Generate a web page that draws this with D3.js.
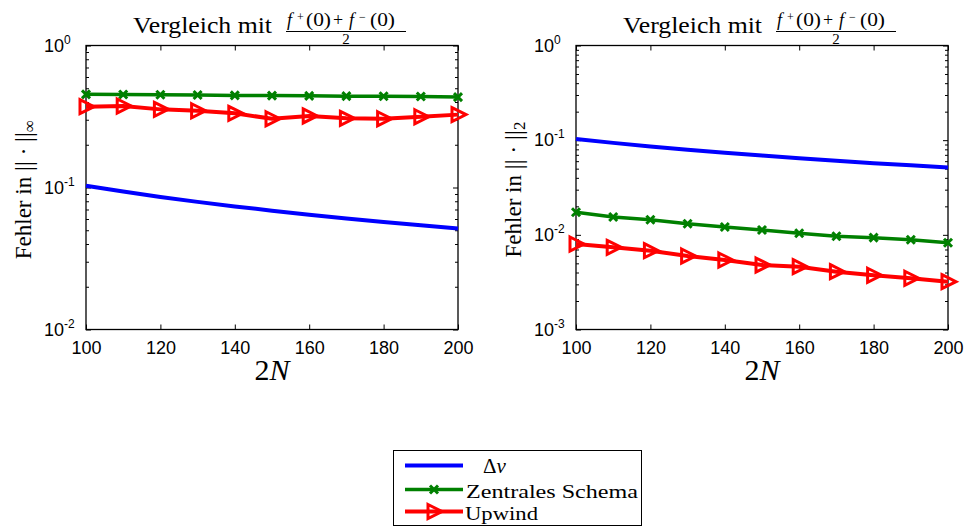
<!DOCTYPE html>
<html>
<head>
<meta charset="utf-8">
<script src="https://cdn.jsdelivr.net/npm/d3@7"></script>
<style>
  html, body { margin: 0; padding: 0; background: #fff; }
  svg { display: block; }
</style>
</head>
<body>
<svg id="chart" width="967" height="528"></svg>
<script>
// Grid sizes 2N and the error of each scheme
const N2 = [100, 110, 120, 130, 140, 150, 160, 170, 180, 190, 200];
const X_TICKS = [100, 120, 140, 160, 180, 200];
const DELTA_V = [0.1030, 0.0936, 0.0858, 0.0792, 0.0736, 0.0687, 0.0644, 0.0606, 0.0572, 0.0542, 0.0515];
const ZENTRAL_INF = [0.453, 0.452, 0.450, 0.448, 0.445, 0.444, 0.442, 0.440, 0.439, 0.437, 0.433];
const UPWIND_INF = [0.371, 0.375, 0.355, 0.347, 0.333, 0.305, 0.319, 0.307, 0.305, 0.315, 0.326];
const ZENTRAL_L2 = [0.0173, 0.01543, 0.01445, 0.01311, 0.0121, 0.01125, 0.01038, 0.00965, 0.00933, 0.00888, 0.00826];
const UPWIND_L2 = [0.0080, 0.00738, 0.0068, 0.00598, 0.00542, 0.0048, 0.00461, 0.00408, 0.00374, 0.00348, 0.0032];
const SERIES_NAMES = ["Zentrales Schema", "Upwind"];
const TITLE_TEXT = "Vergleich mit";
const YLABEL_TEXT = "Fehler in ";

const COLORS = { dv: "#0000ff", zentral: "#008000", upwind: "#ff0000" };
const SERIF = "'Liberation Serif', 'DejaVu Serif', serif";
const SANS = "'Liberation Sans', Arial, Helvetica, sans-serif";

const panels = [
  { x0: 86, x1: 458, yMin: 1e-2, norm: "∞", zentral: ZENTRAL_INF, upwind: UPWIND_INF, labelX: 31 },
  { x0: 576, x1: 948, yMin: 1e-3, norm: "2", zentral: ZENTRAL_L2, upwind: UPWIND_L2, labelX: 521 }
];
const TOP = 45.5, BOTTOM = 329.5;

const svg = d3.select("#chart");
svg.append("rect").attr("width", 967).attr("height", 528).attr("fill", "#fff");

const crossPath = "M-4,-4L4,4M-4,4L4,-4";
const triPath = "M-6,-7L8,0L-6,7Z";

panels.forEach(p => {
  const x = d3.scaleLinear().domain([100, 200]).range([p.x0, p.x1]);
  const y = d3.scaleLog().domain([p.yMin, 1]).range([BOTTOM, TOP]);
  const g = svg.append("g");

  const kMin = Math.round(Math.log10(p.yMin));
  const majors = d3.range(kMin, 1).map(k => Math.pow(10, k));
  const minors = [];
  for (let k = kMin; k < 0; k++) for (let m = 2; m <= 9; m++) minors.push(m * Math.pow(10, k));

  // x axis ticks (bottom with labels, top without)
  const gx = g.append("g").attr("transform", `translate(0,${BOTTOM})`)
    .call(d3.axisBottom(x).tickValues(X_TICKS).tickSize(-5).tickPadding(12).tickFormat(d3.format("d")));
  gx.attr("font-family", SANS).attr("font-size", 18);
  gx.select(".domain").remove();
  gx.selectAll("text").attr("fill", "#000");
  const gxt = g.append("g").attr("transform", `translate(0,${TOP})`)
    .call(d3.axisTop(x).tickValues(X_TICKS).tickSize(-5).tickFormat(""));
  gxt.select(".domain").remove();

  // y axis ticks: decades and minor ticks, both sides
  [[d3.axisLeft, p.x0], [d3.axisRight, p.x1]].forEach(([ax, pos]) => {
    const a1 = g.append("g").attr("transform", `translate(${pos},0)`)
      .call(ax(y).tickValues(majors).tickSize(-5).tickFormat(""));
    a1.select(".domain").remove();
    const a2 = g.append("g").attr("transform", `translate(${pos},0)`)
      .call(ax(y).tickValues(minors).tickSize(-3).tickFormat(""));
    a2.select(".domain").remove();
  });
  g.selectAll(".tick line").attr("stroke", "#000").attr("stroke-width", 1);

  // decade labels 10^k
  majors.forEach(v => {
    const k = Math.round(Math.log10(v));
    const t = g.append("text").attr("x", p.x0 - 42).attr("y", y(v)).attr("dy", "0.35em")
      .attr("font-family", SANS).attr("font-size", 18).attr("fill", "#000");
    t.append("tspan").text("10");
    t.append("tspan").attr("dy", -8).attr("font-size", 12).text(k === 0 ? "0" : "-" + Math.abs(k));
  });

  // plot box
  g.append("rect").attr("x", p.x0).attr("y", TOP).attr("width", p.x1 - p.x0).attr("height", BOTTOM - TOP)
    .attr("fill", "none").attr("stroke", "#000").attr("stroke-width", 1.3);

  const line = d3.line().x(d => x(d[0])).y(d => y(d[1]));

  // Δv
  g.append("path").datum(N2.map((n, i) => [n, DELTA_V[i]])).attr("d", line)
    .attr("fill", "none").attr("stroke", COLORS.dv).attr("stroke-width", 4);

  // central scheme
  const zd = N2.map((n, i) => [n, p.zentral[i]]);
  g.append("path").datum(zd).attr("d", line)
    .attr("fill", "none").attr("stroke", COLORS.zentral).attr("stroke-width", 3.5);
  g.selectAll(".zm").data(zd).join("path").attr("class", "zm")
    .attr("transform", d => `translate(${x(d[0])},${y(d[1])})`).attr("d", crossPath)
    .attr("fill", "none").attr("stroke", COLORS.zentral).attr("stroke-width", 3);

  // upwind
  const ud = N2.map((n, i) => [n, p.upwind[i]]);
  g.append("path").datum(ud).attr("d", line)
    .attr("fill", "none").attr("stroke", COLORS.upwind).attr("stroke-width", 4);
  g.selectAll(".um").data(ud).join("path").attr("class", "um")
    .attr("transform", d => `translate(${x(d[0])},${y(d[1])})`).attr("d", triPath)
    .attr("fill", "none").attr("stroke", COLORS.upwind).attr("stroke-width", 3);

  // title with fraction (f+(0)+f-(0))/2
  const cx = (p.x0 + p.x1) / 2;
  const fc = cx + 74;
  svg.append("text").attr("x", cx - 139).attr("y", 33)
    .attr("font-family", SERIF).attr("font-size", 22.5).attr("fill", "#000")
    .attr("textLength", 139).attr("lengthAdjust", "spacingAndGlyphs").text(TITLE_TEXT);
  const ft = svg.append("g").attr("font-family", SERIF).attr("fill", "#000");
  const parts = [
    { t: "f", dx: -59, it: true, fs: 18, base: 26 },
    { t: "+", dx: -49, fs: 12, base: 21 },
    { t: "(0)", dx: -40, fs: 18, base: 26, len: 25 },
    { t: "+", dx: -13, fs: 18, base: 26 },
    { t: "f", dx: 3, it: true, fs: 18, base: 26 },
    { t: "−", dx: 13, fs: 12, base: 21 },
    { t: "(0)", dx: 24, fs: 18, base: 26, len: 25 }
  ];
  parts.forEach(q => {
    const t = ft.append("text").attr("x", fc + q.dx).attr("y", q.base).attr("font-size", q.fs)
      .attr("font-style", q.it ? "italic" : null).text(q.t);
    if (q.len) t.attr("textLength", q.len).attr("lengthAdjust", "spacingAndGlyphs");
  });
  svg.append("line").attr("x1", fc - 60).attr("x2", fc + 60).attr("y1", 31.5).attr("y2", 31.5)
    .attr("stroke", "#000").attr("stroke-width", 1);
  svg.append("text").attr("x", fc).attr("y", 43.5).attr("text-anchor", "middle")
    .attr("font-family", SERIF).attr("font-size", 15).attr("fill", "#000").text("2");

  // y label: Fehler in ||·||_norm
  const yl = svg.append("text").attr("transform", `translate(${p.labelX},${(TOP + BOTTOM) / 2 + 2}) rotate(-90)`)
    .attr("text-anchor", "middle").attr("font-family", SERIF).attr("font-size", 23).attr("fill", "#000");
  yl.append("tspan").text(YLABEL_TEXT);
  yl.append("tspan").attr("font-size", 25).attr("dy", 1).text("||");
  yl.append("tspan").attr("dy", -1).text(" · ");
  yl.append("tspan").attr("font-size", 25).attr("dy", 1).text("||");
  yl.append("tspan").attr("dy", 3).attr("font-size", 17).text(p.norm);

  // x label 2N
  const xl = svg.append("text").attr("x", cx).attr("y", 380).attr("text-anchor", "middle")
    .attr("font-family", SERIF).attr("font-size", 30).attr("fill", "#000");
  xl.append("tspan").text("2");
  xl.append("tspan").attr("font-style", "italic").text("N");
});

// legend
const lg = svg.append("g");
lg.append("rect").attr("x", 393.5).attr("y", 450.5).attr("width", 248).attr("height", 75)
  .attr("fill", "#fff").attr("stroke", "#000").attr("stroke-width", 1);
const rows = [465.5, 489.5, 511.5];
lg.append("line").attr("x1", 405).attr("x2", 463).attr("y1", rows[0]).attr("y2", rows[0])
  .attr("stroke", COLORS.dv).attr("stroke-width", 4);
const dvt = lg.append("text").attr("x", 483).attr("y", 473).attr("font-family", SERIF).attr("font-size", 21).attr("fill", "#000");
dvt.append("tspan").text("Δ");
dvt.append("tspan").attr("font-style", "italic").text("v");

lg.append("line").attr("x1", 405).attr("x2", 463).attr("y1", rows[1]).attr("y2", rows[1])
  .attr("stroke", COLORS.zentral).attr("stroke-width", 3.5);
lg.append("path").attr("transform", `translate(434,${rows[1]})`).attr("d", crossPath)
  .attr("fill", "none").attr("stroke", COLORS.zentral).attr("stroke-width", 3);
lg.append("text").attr("x", 466).attr("y", 497.5).attr("font-family", SERIF).attr("font-size", 19)
  .attr("fill", "#000").attr("textLength", 172).attr("lengthAdjust", "spacingAndGlyphs").text(SERIES_NAMES[0]);

lg.append("line").attr("x1", 405).attr("x2", 463).attr("y1", rows[2]).attr("y2", rows[2])
  .attr("stroke", COLORS.upwind).attr("stroke-width", 4);
lg.append("path").attr("transform", `translate(434,${rows[2]})`).attr("d", triPath)
  .attr("fill", "none").attr("stroke", COLORS.upwind).attr("stroke-width", 3);
lg.append("text").attr("x", 465).attr("y", 519.5).attr("font-family", SERIF).attr("font-size", 19)
  .attr("fill", "#000").attr("textLength", 73).attr("lengthAdjust", "spacingAndGlyphs").text(SERIES_NAMES[1]);
</script>
</body>
</html>
